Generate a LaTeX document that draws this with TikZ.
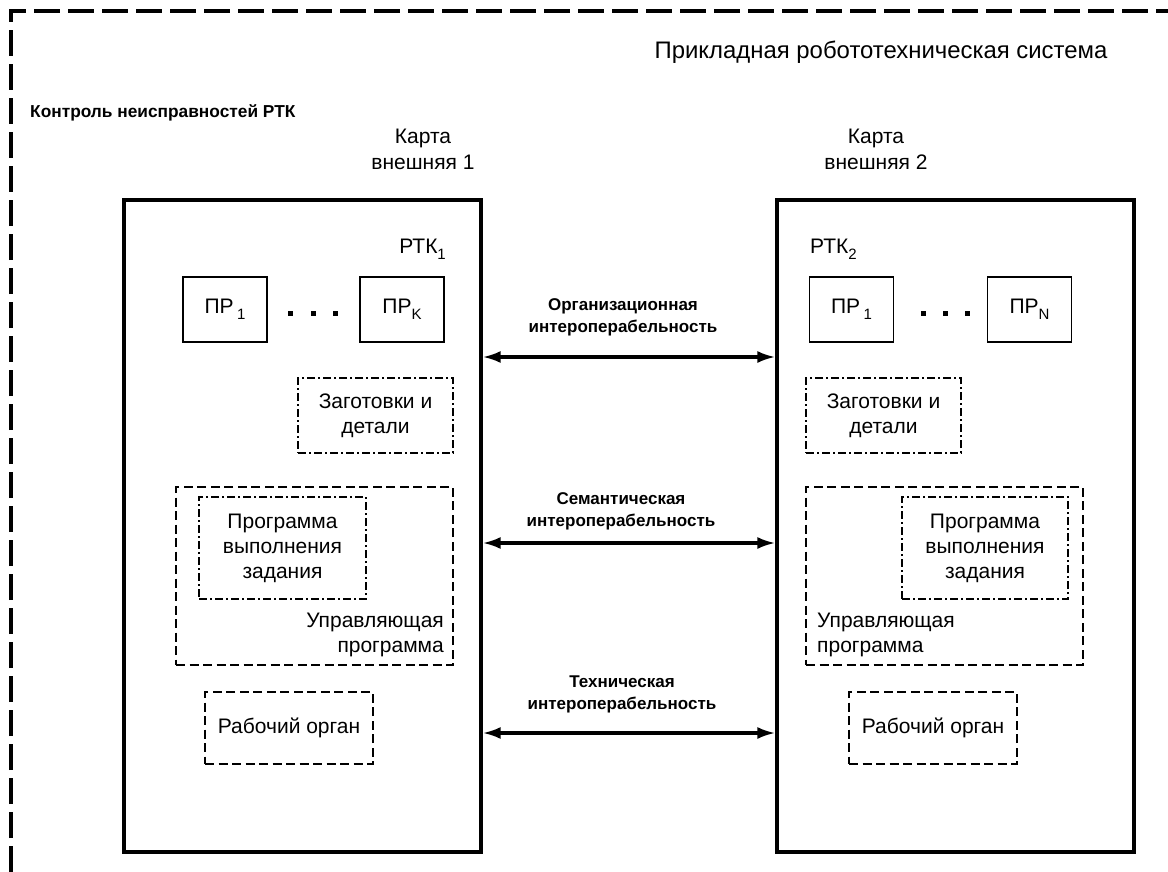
\documentclass[tikz,border=0pt]{standalone}
\usepackage{fontspec}
\setmainfont{Liberation Sans}
\usetikzlibrary{arrows.meta}
\newcommand{\subx}[1]{\raisebox{-0.55ex}{\fontsize{15}{15}\selectfont #1}}
\begin{document}
\begin{tikzpicture}[x=1pt,y=-1pt,
  bigbox/.style={draw, line width=3.2pt, inner sep=0pt},
  prbox/.style={draw, line width=1.8pt, inner sep=0pt, minimum width=84pt, minimum height=65pt, font=\fontsize{21}{25}\selectfont},
  dbox/.style={draw, line width=1.8pt, dash pattern=on 9pt off 4.5pt, inner sep=0pt, align=center, font=\fontsize{21}{25}\selectfont},
  ddbox/.style={draw, line width=1.8pt, dash pattern=on 8pt off 3pt on 2pt off 3pt, inner sep=0pt, align=center, font=\fontsize{21}{25}\selectfont},
  txt/.style={inner sep=0pt, align=center, font=\fontsize{21}{25}\selectfont},
  lbl/.style={inner sep=0pt, align=center, font=\bfseries\fontsize{17}{22}\selectfont},
  arr/.style={line width=3.2pt, {Latex[length=18pt,width=12pt]}-{Latex[length=18pt,width=12pt]}},
  frame/.style={line width=3.6pt, dash pattern=on 26pt off 8pt},
  dotsq/.style={fill=black}
]
\useasboundingbox (0,0) rectangle (1168,872);
% outer frame (partly visible)
\draw[frame] (11,872) -- (11,11) -- (1168,11);

% titles
\node[inner sep=0pt, font=\fontsize{23.9}{27}\selectfont] (title) at (881,52) {Прикладная робототехническая система};
\node[inner sep=0pt, anchor=west, font=\bfseries\fontsize{17.3}{20}\selectfont] (ctrl) at (30,113) {Контроль неисправностей РТК};
\node[txt, font=\fontsize{21}{26}\selectfont] (map1) at (423,149) {Карта\\внешняя 1};
\node[txt, font=\fontsize{21}{26}\selectfont] (map2) at (876,149) {Карта\\внешняя 2};

% big boxes
\node[bigbox, minimum width=357pt, minimum height=652pt] (rtk1) at (302.5,526) {};
\node[bigbox, minimum width=357pt, minimum height=652pt] (rtk2) at (955.5,526) {};
\node[txt, anchor=east] (rtk1lbl) at (446,249) {РТК\subx{1}};
\node[txt, anchor=west] (rtk2lbl) at (810,249) {РТК\subx{2}};

% PR boxes
\node[prbox] (pr11) at (225,309.5) {ПР\,\subx{1}};
\node[prbox] (pr1k) at (402,309.5) {ПР\subx{K}};
\node[prbox] (pr21) at (851.5,309.5) {ПР\,\subx{1}};
\node[prbox] (pr2n) at (1029.5,309.5) {ПР\subx{N}};
\foreach \xx in {290,313,335,923,945,967}{
  \fill[dotsq] (\xx-2.5,310.5) rectangle ++(5,5);
}

% blanks and parts
\node[ddbox, minimum width=155pt, minimum height=75pt] (zag1) at (375.5,415.5) {Заготовки и\\детали};
\node[ddbox, minimum width=155pt, minimum height=75pt] (zag2) at (883.5,415.5) {Заготовки и\\детали};

% control program
\node[dbox, minimum width=277pt, minimum height=178pt] (up1) at (314.5,576) {};
\node[dbox, minimum width=277pt, minimum height=178pt] (up2) at (944.5,576) {};
\node[ddbox, minimum width=167pt, minimum height=102pt] (prg1) at (282.5,548) {Программа\\выполнения\\задания};
\node[ddbox, minimum width=166pt, minimum height=102pt] (prg2) at (985,548) {Программа\\выполнения\\задания};
\node[txt, anchor=east, align=right] (up1lbl) at (444,635) {Управляющая\\программа};
\node[txt, anchor=west, align=left] (up2lbl) at (817,635) {Управляющая\\программа};

% working organ
\node[dbox, minimum width=168pt, minimum height=72pt] (ro1) at (289,728) {Рабочий орган};
\node[dbox, minimum width=168pt, minimum height=72pt] (ro2) at (933,728) {Рабочий орган};

% arrows
\coordinate (ya) at (0,357);
\coordinate (yb) at (0,543);
\coordinate (yc) at (0,733);
\draw[arr] (rtk1.east |- ya) -- (rtk2.west |- ya);
\draw[arr] (rtk1.east |- yb) -- (rtk2.west |- yb);
\draw[arr] (rtk1.east |- yc) -- (rtk2.west |- yc);
\node[lbl] (org) at (623,317) {Организационная\\интероперабельность};
\node[lbl] (sem) at (621,511) {Семантическая\\интероперабельность};
\node[lbl] (tech) at (622,694) {Техническая\\интероперабельность};
\end{tikzpicture}
\end{document}
